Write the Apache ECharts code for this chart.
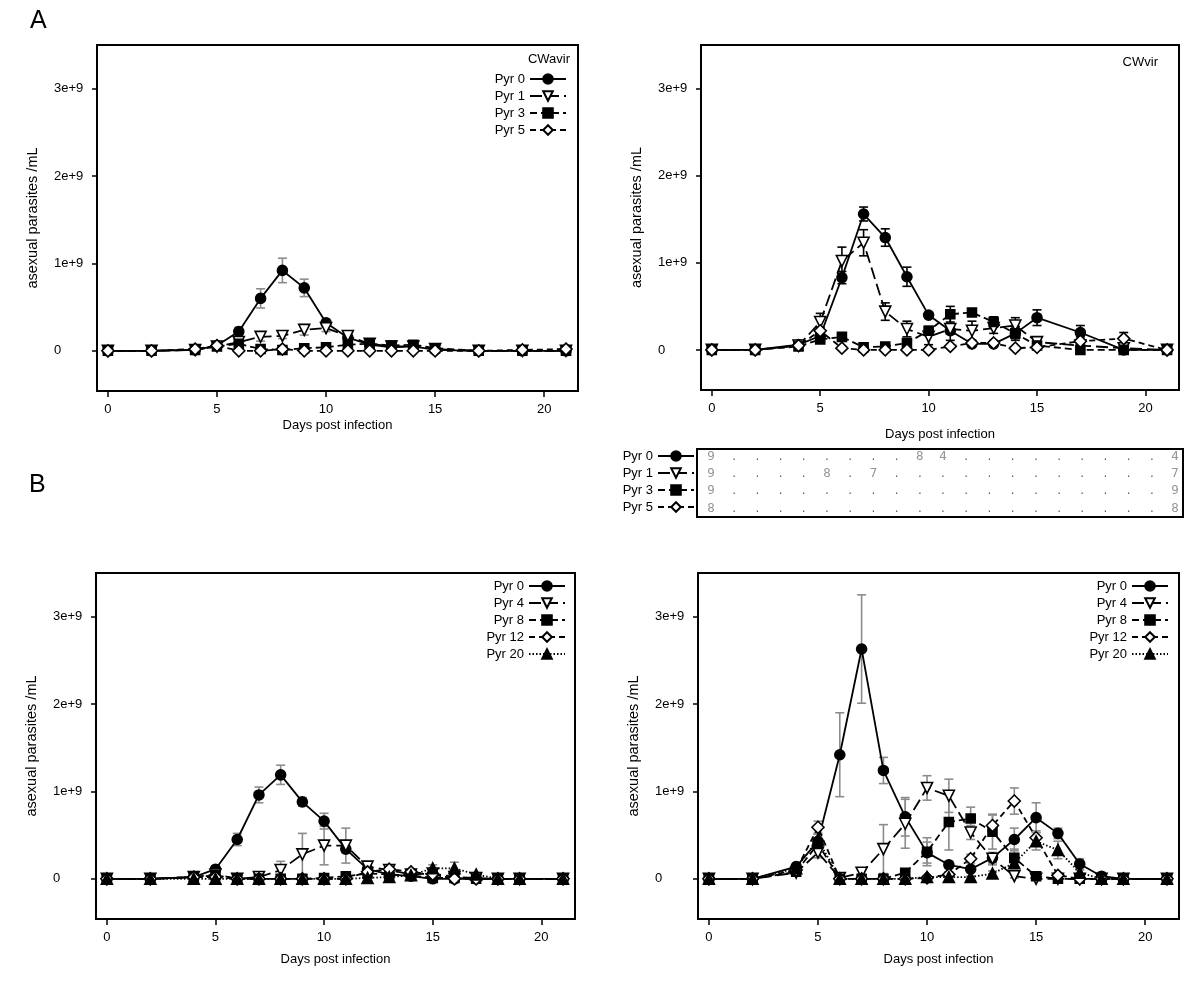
<!DOCTYPE html>
<html><head><meta charset="utf-8">
<script src="https://cdn.jsdelivr.net/npm/echarts@6/dist/echarts.min.js"></script>
<style>html,body{margin:0;padding:0;background:#fff}#c{width:1200px;height:1003px}</style>
</head><body><div id="c"></div>
<script>
// ---------- DATA (values in units of 1e9 asexual parasites /mL) ----------
const daysA = [0,2,4,5,6,7,8,9,10,11,12,13,14,15,17,19,21];
const daysB = [0,2,4,5,6,7,8,9,10,11,12,13,14,15,16,17,18,19,21];
const xTicks = [0,5,10,15,20];
const yTicks = [0,1,2,3];

// Panel A left: CWavir
const namesA = ['Pyr 0','Pyr 1','Pyr 3','Pyr 5'];
const avirPyr0 = [0,0,0.01,0.06,0.22,0.60,0.92,0.72,0.32,0.15,0.07,0.04,0.05,0.01,0,0,0];
const avirPyr1 = [0,0,0.01,0.05,0.10,0.16,0.17,0.24,0.26,0.17,0.08,0.05,0.05,0.02,0,0,0];
const avirPyr3 = [0,0,0.01,0.05,0.08,0.02,0.01,0.03,0.04,0.07,0.08,0.06,0.07,0.03,0,0,0];
const avirPyr5 = [0,0,0.02,0.06,0,0,0.02,0,0,0,0,0,0,0,0,0.01,0.02];
const avirErr0 = [0,0,0,0.02,0.05,0.11,0.14,0.10,0.04,0.02,0.02,0.01,0.01,0,0,0,0];
const avirErr1 = [0,0,0,0.01,0.03,0.05,0.03,0.06,0.04,0.03,0.05,0.02,0.02,0,0,0,0];
const avirErr3 = [0,0,0,0.01,0.02,0.01,0.01,0.01,0.02,0.03,0.05,0.02,0.04,0.01,0,0,0];
const avirErr5 = [0,0,0,0.01,0,0,0,0,0,0,0,0,0,0,0,0,0];

// Panel A right: CWvir
const virPyr0 = [0,0,0.06,0.16,0.83,1.56,1.29,0.84,0.40,0.22,0.07,0.07,0.19,0.37,0.20,0,0];
const virPyr1 = [0,0,0.05,0.32,1.02,1.23,0.44,0.24,0.15,0.24,0.22,0.25,0.28,0.09,0.05,0.02,0];
const virPyr3 = [0,0,0.04,0.12,0.15,0.03,0.04,0.08,0.22,0.41,0.43,0.32,0.19,0.05,0,0,0];
const virPyr5 = [0,0,0.05,0.22,0.02,0,0,0,0,0.04,0.08,0.08,0.02,0.03,0.10,0.13,0];
const virErr0 = [0,0,0.01,0.03,0.07,0.08,0.10,0.11,0.03,0.04,0.02,0.02,0.06,0.09,0.08,0.01,0];
const virErr1 = [0,0,0.01,0.10,0.16,0.15,0.10,0.09,0.09,0.13,0.11,0.06,0.09,0.05,0.03,0.01,0];
const virErr3 = [0,0,0,0.02,0.04,0.01,0.01,0.02,0.05,0.09,0.03,0.06,0.08,0.02,0.01,0,0];
const virErr5 = [0,0,0,0.04,0.01,0,0,0,0,0.01,0.02,0.02,0.01,0.01,0.05,0.07,0];

// Table (number of animals, CWvir)
const tableRowNames = ['Pyr 0','Pyr 1','Pyr 3','Pyr 5'];
const tabPyr0 = ['9','.','.','.','.','.','.','.','.','8','4','.','.','.','.','.','.','.','.','.','4'];
const tabPyr1 = ['9','.','.','.','.','8','.','7','.','.','.','.','.','.','.','.','.','.','.','.','7'];
const tabPyr3 = ['9','.','.','.','.','.','.','.','.','.','.','.','.','.','.','.','.','.','.','.','9'];
const tabPyr5 = ['8','.','.','.','.','.','.','.','.','.','.','.','.','.','.','.','.','.','.','.','8'];

// Panel B
const namesB = ['Pyr 0','Pyr 4','Pyr 8','Pyr 12','Pyr 20'];
const bLPyr0  = [0,0,0.02,0.11,0.45,0.96,1.19,0.88,0.66,0.34,0.11,0.05,0.03,0,0,0,0,0,0];
const bLPyr4  = [0,0,0.02,0.05,0,0.02,0.10,0.28,0.38,0.38,0.14,0.10,0.05,0.06,0.02,0.01,0,0,0];
const bLPyr8  = [0,0,0.02,0.04,0,0,0,0,0.01,0.03,0.06,0.05,0.04,0.01,0.01,0,0,0,0];
const bLPyr12 = [0,0,0.02,0.02,0,0,0,0,0,0,0.08,0.11,0.08,0.05,0,0,0,0,0];
const bLPyr20 = [0,0,0,0,0,0,0,0,0,0,0.01,0.02,0.04,0.12,0.12,0.05,0,0,0];
const bLErr0  = [0,0,0.01,0.03,0.07,0.09,0.11,0.05,0.09,0.04,0.04,0.02,0.01,0,0,0,0,0,0];
const bLErr4  = [0,0,0,0.01,0,0.01,0.10,0.24,0.22,0.20,0.05,0.04,0.03,0.03,0.02,0.01,0,0,0];
const bLErr8  = [0,0,0,0.01,0,0,0,0,0,0.01,0.02,0.01,0.01,0,0,0,0,0,0];
const bLErr12 = [0,0,0,0.01,0,0,0,0,0,0,0.02,0.03,0.02,0.01,0,0,0,0,0];
const bLErr20 = [0,0,0,0,0,0,0,0,0,0,0,0.01,0.01,0.04,0.07,0.02,0,0,0];

const bRPyr0  = [0,0,0.14,0.43,1.42,2.63,1.24,0.71,0.30,0.16,0.11,0.24,0.45,0.70,0.52,0.17,0.03,0,0];
const bRPyr4  = [0,0,0.07,0.30,0.01,0.07,0.34,0.63,1.04,0.95,0.53,0.23,0.03,0,0,0,0,0,0];
const bRPyr8  = [0,0,0.08,0.40,0,0,0,0.07,0.31,0.65,0.69,0.54,0.24,0.03,0,0,0,0,0];
const bRPyr12 = [0,0,0.10,0.59,0,0,0,0,0.01,0.05,0.23,0.61,0.89,0.47,0.04,0,0,0,0];
const bRPyr20 = [0,0,0.12,0.45,0,0,0,0,0.02,0.02,0.02,0.06,0.18,0.43,0.33,0.07,0,0,0];
const bRErr0  = [0,0,0.02,0.08,0.48,0.62,0.15,0.22,0.12,0.04,0.03,0.06,0.13,0.17,0.06,0.06,0.01,0,0];
const bRErr4  = [0,0,0.03,0.06,0,0.05,0.28,0.28,0.14,0.19,0.08,0.07,0.02,0,0,0,0,0,0];
const bRErr8  = [0,0,0.03,0.06,0,0,0,0.03,0.16,0.32,0.13,0.20,0.10,0.02,0,0,0,0,0];
const bRErr12 = [0,0,0.04,0.07,0,0,0,0,0,0.03,0.05,0.12,0.15,0.08,0.02,0,0,0,0];
const bRErr20 = [0,0,0.04,0.06,0,0,0,0,0.01,0.01,0.01,0.03,0.06,0.10,0.10,0.03,0,0,0];

// ---------- STYLES ----------
const FONT = 'Liberation Sans, Arial, Helvetica, sans-serif';
const STYLES = {
  circle:  {symbol:'circle',   size:10, rotate:0,   fill:'#000', dash:'solid'},
  triDown: {symbol:'triangle', size:11, rotate:180, fill:'#fff', dash:[12,5]},
  square:  {symbol:'rect',     size:9,  rotate:0,   fill:'#000', dash:[7,4]},
  diamond: {symbol:'diamond',  size:12, rotate:0,   fill:'#fff', dash:[6,4]},
  triUp:   {symbol:'triangle', size:11, rotate:0,   fill:'#000', dash:[1.5,2]}
};
const stylesA = ['circle','triDown','square','diamond'];
const stylesB = ['circle','triDown','square','diamond','triUp'];

function panelSeries(gi, days, names, vals, errs, styleKeys, errColor) {
  const out = [];
  names.forEach((nm, k) => {
    out.push({
      type:'custom', name: nm + ' sd', xAxisIndex: gi, yAxisIndex: gi, z: 1, silent: true,
      animation:false,
      encode:{x:0, y:1},
      data: days.map((d,i) => [d, vals[k][i], errs[k][i]]),
      renderItem: (params, api) => {
        const x = api.value(0), y = api.value(1), e = api.value(2);
        if (!(e > 0)) return null;
        const t = api.coord([x, y + e]), b = api.coord([x, y - e]);
        const w = 4.5, st = {stroke: errColor, lineWidth: 1.6};
        return {type:'group', children:[
          {type:'line', shape:{x1:t[0], y1:t[1], x2:b[0], y2:b[1]}, style:st},
          {type:'line', shape:{x1:t[0]-w, y1:t[1], x2:t[0]+w, y2:t[1]}, style:st},
          {type:'line', shape:{x1:b[0]-w, y1:b[1], x2:b[0]+w, y2:b[1]}, style:st}
        ]};
      }
    });
  });
  names.forEach((nm, k) => {
    const s = STYLES[styleKeys[k]];
    out.push({
      type:'line', name: nm, xAxisIndex: gi, yAxisIndex: gi, z: 3 + k,
      animation:false, silent:true,
      data: days.map((d,i) => [d, vals[k][i]]),
      symbol: s.symbol, symbolSize: s.size, symbolRotate: s.rotate, showSymbol:true,
      lineStyle:{color:'#000', width:1.8, type:s.dash},
      itemStyle:{color:s.fill, borderColor:'#000', borderWidth:1.6}
    });
  });
  return out;
}

function tableSeries(gi) {
  const rows = [tabPyr0, tabPyr1, tabPyr3, tabPyr5];
  const data = [];
  rows.forEach((r, ri) => r.forEach((txt, ci) => {
    const isNum = txt !== '.';
    data.push({value:[ci, ri], label:{formatter: txt,
      color: isNum ? '#7a7a7a' : '#222',
      fontFamily: isNum ? 'DejaVu Sans Mono, monospace' : FONT,
      fontSize: isNum ? 12.5 : 12}});
  }));
  return [{type:'scatter', xAxisIndex: gi, yAxisIndex: gi, symbolSize: 0, silent:true, animation:false,
    label:{show:true, position:'inside'}, data}];
}

// ---------- GRIDS / AXES ----------
const grids = [
  {left:97,  top:45,  width:481, height:346},
  {left:701, top:45,  width:478, height:345},
  {left:96,  top:573, width:479, height:346},
  {left:698, top:573, width:481, height:346},
  {left:697, top:449, width:486, height:68}
].map(g => Object.assign({show:true, borderColor:'#000', borderWidth:2, backgroundColor:'transparent'}, g));

const xNameGaps = [28, 38, 34, 34];
function mkX(i) {
  return {type:'value', gridIndex:i, min:-0.5, max:21.55, position:'bottom',
    name:'Days post infection', nameLocation:'middle', nameGap:xNameGaps[i],
    nameTextStyle:{fontFamily:FONT, fontSize:13, color:'#000'},
    axisLine:{show:false, onZero:false}, splitLine:{show:false},
    axisTick:{show:true, length:6, lineStyle:{color:'#000', width:1.5}, customValues:xTicks},
    axisLabel:{fontFamily:FONT, fontSize:13, color:'#000', margin:12, customValues:xTicks}};
}
function mkY(i) {
  return {type:'value', gridIndex:i, min:-0.46, max:3.5, position:'left',
    name:'asexual parasites /mL', nameLocation:'middle', nameGap:57, nameRotate:90,
    nameTextStyle:{fontFamily:FONT, fontSize:14.5, color:'#000'},
    axisLine:{show:false, onZero:false}, splitLine:{show:false},
    axisTick:{show:true, length:5, lineStyle:{color:'#000', width:1.5}, customValues:yTicks},
    axisLabel:{fontFamily:FONT, fontSize:13, color:'#000', margin:43, align:'left',
      customValues:yTicks, formatter: v => v === 0 ? '0' : v + 'e+9'}};
}
const xAxes = [0,1,2,3].map(mkX);
const yAxes = [0,1,2,3].map(mkY);
xAxes.push({type:'value', gridIndex:4, min:-0.6, max:20.34, show:false});
yAxes.push({type:'value', gridIndex:4, min:-0.42, max:3.5, inverse:true, show:false});

// ---------- LEGENDS ----------
function mkLegend(names, right, top) {
  return {data:names, orient:'vertical', align:'right', right, top, padding:0,
    itemWidth:36, itemHeight:12, itemGap:3, selectedMode:false,
    textStyle:{fontFamily:FONT, fontSize:13, color:'#000', lineHeight:14}};
}

const series = [].concat(
  panelSeries(0, daysA, namesA, [avirPyr0,avirPyr1,avirPyr3,avirPyr5], [avirErr0,avirErr1,avirErr3,avirErr5], stylesA, '#8c8c8c'),
  panelSeries(1, daysA, namesA, [virPyr0,virPyr1,virPyr3,virPyr5], [virErr0,virErr1,virErr3,virErr5], stylesA, '#000'),
  panelSeries(2, daysB, namesB, [bLPyr0,bLPyr4,bLPyr8,bLPyr12,bLPyr20], [bLErr0,bLErr4,bLErr8,bLErr12,bLErr20], stylesB, '#8c8c8c'),
  panelSeries(3, daysB, namesB, [bRPyr0,bRPyr4,bRPyr8,bRPyr12,bRPyr20], [bRErr0,bRErr4,bRErr8,bRErr12,bRErr20], stylesB, '#8c8c8c'),
  tableSeries(4)
);

const option = {
  backgroundColor:'#fff',
  animation:false,
  title:[
    {text:'A', left:30, top:9, padding:0, textStyle:{fontFamily:FONT, fontSize:25, fontWeight:'normal', color:'#000'}},
    {text:'B', left:29, top:473, padding:0, textStyle:{fontFamily:FONT, fontSize:25, fontWeight:'normal', color:'#000'}},
    {text:'CWavir', right:630, top:53, padding:0, textStyle:{fontFamily:FONT, fontSize:13, fontWeight:'normal', color:'#000'}},
    {text:'CWvir', right:42, top:56, padding:0, textStyle:{fontFamily:FONT, fontSize:13, fontWeight:'normal', color:'#000'}}
  ],
  legend:[
    mkLegend(namesA, 633, 72),
    mkLegend(tableRowNames, 505, 449),
    mkLegend(namesB, 634, 579),
    mkLegend(namesB, 31, 579)
  ],
  grid: grids,
  xAxis: xAxes,
  yAxis: yAxes,
  series
};
const chart = echarts.init(document.getElementById('c'), null, {renderer:'canvas'});
chart.setOption(option);
</script></body></html>
